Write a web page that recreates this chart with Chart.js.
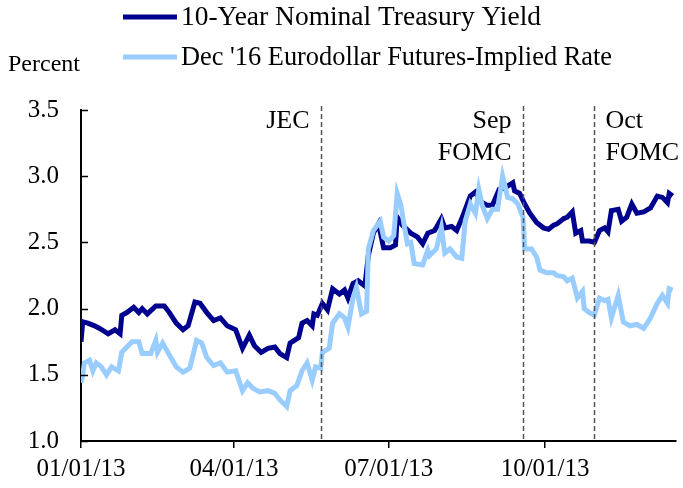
<!DOCTYPE html>
<html>
<head>
<meta charset="utf-8">
<script src="https://cdn.jsdelivr.net/npm/chart.js@4.4.1/dist/chart.umd.min.js"></script>
<style>
  html, body { margin: 0; padding: 0; background: #fff; }
  #wrap { width: 683px; height: 488px; }
</style>
</head>
<body>
<div id="wrap"><canvas id="chart" width="683" height="488"></canvas></div>
<script>
// days counted from 01/01/13
const tsyDays = [0, 1, 4, 8, 11, 16, 20, 23, 24, 27, 31, 34, 36, 39, 44, 49, 52, 56, 60, 63,
  67, 70, 74, 78, 82, 86, 91, 95, 99, 102, 106, 110, 114, 117, 121, 123, 128, 130, 133, 136,
  137, 139, 142, 145, 148, 152, 155, 157, 160, 163, 167, 169, 172, 175, 178, 182, 185, 186, 189, 194,
  198, 201, 204, 208, 212, 214, 218, 221, 224, 229, 232, 235, 239, 242, 246, 249, 254, 255, 258, 261,
  264, 268, 272, 275, 278, 280, 284, 286, 289, 291, 294, 295, 299, 302, 305, 308, 310, 312, 316, 318,
  321, 324, 327, 331, 335, 339, 342, 345, 346, 348];
const tsyYield = [1.75, 1.90, 1.89, 1.87, 1.85, 1.81, 1.84, 1.81, 1.95, 1.97, 2.01, 1.97, 2.00, 1.96, 2.02, 2.02, 1.97, 1.89, 1.84, 1.87,
  2.05, 2.04, 1.97, 1.91, 1.93, 1.87, 1.84, 1.70, 1.80, 1.72, 1.67, 1.70, 1.71, 1.66, 1.63, 1.74, 1.78, 1.89, 1.91, 1.87,
  1.96, 1.95, 2.04, 1.99, 2.15, 2.11, 2.14, 2.08, 2.19, 2.21, 2.17, 2.40, 2.57, 2.64, 2.46, 2.46, 2.48, 2.69, 2.63, 2.57,
  2.54, 2.49, 2.57, 2.59, 2.68, 2.61, 2.62, 2.59, 2.68, 2.85, 2.88, 2.81, 2.78, 2.78, 2.90, 2.91, 2.95, 2.89, 2.87, 2.79,
  2.72, 2.65, 2.61, 2.60, 2.63, 2.64, 2.68, 2.69, 2.73, 2.57, 2.59, 2.51, 2.51, 2.50, 2.59, 2.61, 2.58, 2.74, 2.75, 2.66,
  2.69, 2.79, 2.72, 2.73, 2.76, 2.85, 2.84, 2.80, 2.87, 2.85];

const edDays = [0, 1, 2, 5, 7, 9, 12, 15, 18, 22, 24, 30, 34, 36, 41, 44, 45, 48, 52, 56,
  60, 64, 68, 71, 74, 78, 82, 86, 91, 95, 98, 101, 105, 110, 114, 117, 121, 123, 127, 130,
  133, 136, 138, 141, 142, 146, 148, 152, 155, 157, 160, 162, 165, 168, 169, 172, 176, 178, 181, 184,
  186, 188, 192, 194, 196, 201, 204, 205, 209, 212, 214, 217, 221, 224, 226, 229, 232, 234, 236, 239,
  242, 245, 248, 251, 254, 257, 260, 261, 265, 268, 270, 274, 278, 280, 284, 286, 289, 292, 295, 296,
  299, 302, 305, 308, 310, 312, 316, 319, 323, 327, 331, 335, 339, 342, 345, 346, 348];
const edRate = [1.44, 1.50, 1.59, 1.61, 1.53, 1.59, 1.56, 1.50, 1.56, 1.53, 1.67, 1.75, 1.75, 1.66, 1.66, 1.76, 1.67, 1.74, 1.65, 1.56,
  1.52, 1.55, 1.76, 1.74, 1.63, 1.57, 1.59, 1.52, 1.53, 1.38, 1.44, 1.40, 1.37, 1.38, 1.36, 1.31, 1.26, 1.38, 1.42, 1.53,
  1.59, 1.46, 1.56, 1.55, 1.67, 1.70, 1.89, 1.96, 1.93, 1.86, 2.08, 2.16, 1.96, 1.98, 2.45, 2.59, 2.66, 2.54, 2.51, 2.55,
  2.87, 2.79, 2.49, 2.50, 2.34, 2.33, 2.44, 2.40, 2.45, 2.61, 2.42, 2.45, 2.39, 2.38, 2.66, 2.79, 2.72, 2.90, 2.78, 2.68,
  2.75, 2.75, 3.00, 2.84, 2.83, 2.79, 2.69, 2.45, 2.45, 2.39, 2.29, 2.27, 2.27, 2.25, 2.24, 2.21, 2.23, 2.08, 2.13, 2.00,
  1.97, 1.95, 2.08, 2.06, 2.07, 1.93, 2.10, 1.90, 1.87, 1.88, 1.85, 1.93, 2.04, 2.10, 2.04, 2.15, 2.14];

const xTickDays = [0, 90, 181, 273];
const xTickLabels = ["01/01/13", "04/01/13", "07/01/13", "10/01/13"];

// event lines: day, label lines, side of the line the text sits on
const eventDays = [141, 260, 302];
const eventLabels = [["JEC"], ["Sep", "FOMC"], ["Oct", "FOMC"]];
const eventSides = ["left", "left", "right"];

const FONT = "'Liberation Serif', 'Times New Roman', serif";
const DARK = "#00008f";
const LIGHT = "#99ccff";

function pairs(xs, ys) {
    return xs.map((x, i) => ({ x: x, y: ys[i] }));
}

const legendWidths = [360, 431]; // text widths in the original, px

const overlay = {
    id: "overlay",
    afterDatasetsDraw(chart) {
        const ctx = chart.ctx;
        const xs = chart.scales.x;
        const ys = chart.scales.y;
        const area = chart.chartArea;
        ctx.save();

        // inward ticks on the value axis
        ctx.strokeStyle = "#000";
        ctx.lineWidth = 1.5;
        ys.ticks.forEach((t) => {
            const y = Math.round(ys.getPixelForValue(t.value)) + 0.5;
            ctx.beginPath();
            ctx.moveTo(area.left, y);
            ctx.lineTo(area.left + 7, y);
            ctx.stroke();
        });

        // dashed event lines + labels
        ctx.font = "26px " + FONT;
        ctx.fillStyle = "#000";
        ctx.textBaseline = "middle";
        eventDays.forEach((d, i) => {
            const x = Math.round(xs.getPixelForValue(d)) + 0.5;
            ctx.strokeStyle = "#555";
            ctx.lineWidth = 1.5;
            ctx.setLineDash([5, 3]);
            ctx.beginPath();
            ctx.moveTo(x, area.top - 4);
            ctx.lineTo(x, area.bottom);
            ctx.stroke();
            ctx.setLineDash([]);
            const side = eventSides[i];
            ctx.textAlign = side === "left" ? "right" : "left";
            const tx = side === "left" ? x - 12 : x + 11;
            eventLabels[i].forEach((line, j) => {
                ctx.fillText(line, tx, area.top + 11 + j * 32);
            });
        });

        // legend, stacked
        ctx.font = "27px " + FONT;
        ctx.textAlign = "left";
        chart.data.datasets.forEach((ds, i) => {
            const y = 17 + i * 40;
            ctx.strokeStyle = ds.borderColor;
            ctx.lineWidth = 5;
            ctx.beginPath();
            ctx.moveTo(123, y);
            ctx.lineTo(177, y);
            ctx.stroke();
            ctx.fillStyle = "#000";
            const w = ctx.measureText(ds.label).width;
            ctx.save();
            ctx.translate(181, y + 1);
            ctx.scale(legendWidths[i] / w, 1);
            ctx.fillText(ds.label, 0, 0);
            ctx.restore();
        });

        // axis title
        ctx.font = "24px " + FONT;
        ctx.fillText("Percent", 8, 65);
        ctx.restore();
    },
};

new Chart(document.getElementById("chart"), {
    type: "line",
    data: {
        datasets: [
            {
                label: "10-Year Nominal Treasury Yield",
                data: pairs(tsyDays, tsyYield),
                borderColor: DARK,
                borderWidth: 5,
                pointRadius: 0,
                tension: 0,
                order: 2,
            },
            {
                label: "Dec '16 Eurodollar Futures-Implied Rate",
                data: pairs(edDays, edRate),
                borderColor: LIGHT,
                borderWidth: 5,
                pointRadius: 0,
                tension: 0,
                order: 1,
            },
        ],
    },
    options: {
        responsive: false,
        animation: false,
        layout: { padding: { top: 110, right: 7, left: 0, bottom: 0 } },
        plugins: {
            legend: { display: false },
            tooltip: { enabled: false },
        },
        scales: {
            x: {
                type: "linear",
                min: 0,
                max: 350,
                afterBuildTicks: (scale) => {
                    scale.ticks = xTickDays.map((v) => ({ value: v }));
                },
                afterFit: (scale) => {
                    scale.height = 47;
                },
                ticks: {
                    autoSkip: false,
                    maxRotation: 0,
                    padding: 6,
                    color: "#000",
                    font: { family: FONT, size: 25 },
                    callback: (v) => xTickLabels[xTickDays.indexOf(v)],
                },
                grid: {
                    drawOnChartArea: false,
                    drawTicks: true,
                    tickLength: 7,
                    color: "#000",
                    lineWidth: 1.5,
                },
                border: { color: "#000", width: 2 },
            },
            y: {
                min: 1.0,
                max: 3.5,
                afterFit: (scale) => {
                    scale.width = 81;
                },
                ticks: {
                    stepSize: 0.5,
                    padding: 22,
                    color: "#000",
                    font: { family: FONT, size: 25 },
                    callback: (v) => v.toFixed(1),
                },
                grid: { drawOnChartArea: false, drawTicks: false },
                border: { color: "#000", width: 2 },
            },
        },
    },
    plugins: [overlay],
});
</script>
</body>
</html>
